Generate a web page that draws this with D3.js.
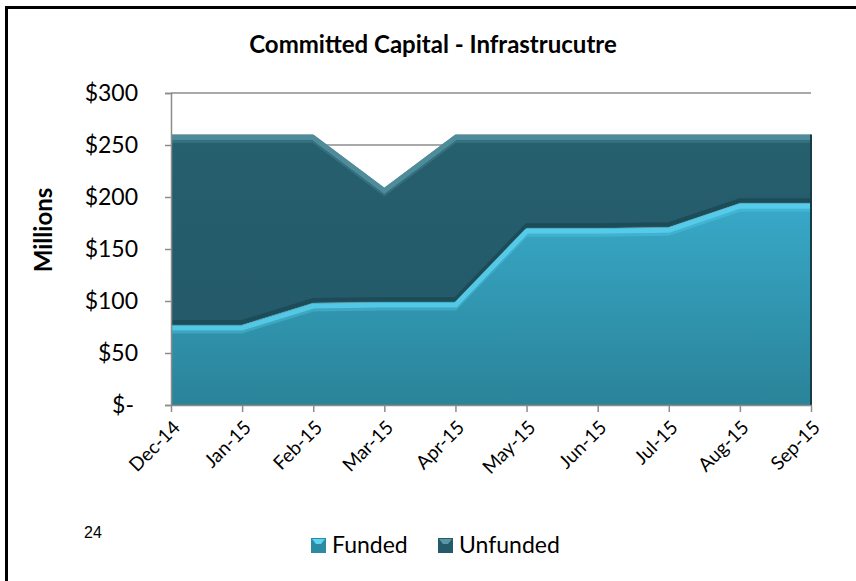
<!DOCTYPE html>
<html>
<head>
<meta charset="utf-8">
<script src="https://cdn.jsdelivr.net/npm/d3@7"></script>
<style>
  body { margin: 0; background: #fff; }
  text { font-family: Lato, "Open Sans", sans-serif; }
</style>
</head>
<body>
<script>
var months = ["Dec-14","Jan-15","Feb-15","Mar-15","Apr-15","May-15","Jun-15","Jul-15","Aug-15","Sep-15"];
var funded = [77, 77, 98, 99, 99, 170, 170, 171, 194, 194];
var unfunded = [183, 183, 162, 110, 161, 90, 90, 89, 66, 66];
var yTicks = [0, 50, 100, 150, 200, 250, 300];
var seriesNames = ["Funded", "Unfunded"];

var width = 856, height = 581;
var margin = {top: 93, right: 45, bottom: 176, left: 171};

var svg = d3.select("body").append("svg")
    .attr("width", width)
    .attr("height", height);

// frame (only left and top edges show)
svg.append("path")
   .attr("d", "M6.5,581 L6.5,7.5 L856,7.5")
   .attr("fill", "none")
   .attr("stroke", "#000")
   .attr("stroke-width", 3);

var defs = svg.append("defs");
var gF = defs.append("linearGradient").attr("id", "gFunded").attr("x1", 0).attr("y1", 0).attr("x2", 0).attr("y2", 1);
gF.append("stop").attr("offset", "0%").attr("stop-color", "#38a9c8");
gF.append("stop").attr("offset", "100%").attr("stop-color", "#2a8399");
var gU = defs.append("linearGradient").attr("id", "gUnfunded").attr("x1", 0).attr("y1", 0).attr("x2", 0).attr("y2", 1);
gU.append("stop").attr("offset", "0%").attr("stop-color", "#265f6e");
gU.append("stop").attr("offset", "100%").attr("stop-color", "#245a69");

var xScale = d3.scalePoint()
    .domain(months)
    .range([margin.left, width - margin.right]);

var yScale = d3.scaleLinear()
    .domain([0, 300])
    .range([height - margin.bottom, margin.top]);

// gridlines
svg.append("g")
   .selectAll("line")
   .data(yTicks.slice(1))
   .enter()
   .append("line")
   .attr("x1", margin.left)
   .attr("x2", width - margin.right)
   .attr("y1", d => yScale(d))
   .attr("y2", d => yScale(d))
   .attr("stroke", "#8c8c8c")
   .attr("stroke-width", 1.5);

var table = months.map((m, i) => ({month: m, Funded: funded[i], Unfunded: unfunded[i]}));
var stacked = d3.stack().keys(seriesNames)(table);

var area = d3.area()
    .x(d => xScale(d.data.month))
    .y0(d => yScale(d[0]))
    .y1(d => yScale(d[1]));

var topLine = d3.line()
    .x(d => xScale(d.data.month))
    .y(d => yScale(d[1]));

var fills = {Funded: "url(#gFunded)", Unfunded: "url(#gUnfunded)"};
var hilite = {Funded: "#5dd4f2", Unfunded: "#5a97a6"};

stacked.forEach(function(layer) {
  svg.append("path")
     .datum(layer)
     .attr("d", area)
     .attr("fill", fills[layer.key]);
});

// bevel edges along top of each layer
stacked.forEach(function(layer) {
  if (layer.key === "Funded") {
    svg.append("path")
       .datum(layer)
       .attr("d", topLine)
       .attr("transform", "translate(0,-3)")
       .attr("fill", "none")
       .attr("stroke", "#1c4955")
       .attr("stroke-width", 4)
       .attr("opacity", 0.8);
  }
  svg.append("path")
     .datum(layer)
     .attr("d", topLine)
     .attr("transform", "translate(0,3)")
     .attr("fill", "none")
     .attr("stroke", hilite[layer.key])
     .attr("stroke-width", 5)
     .attr("opacity", 0.8);
  svg.append("path")
     .datum(layer)
     .attr("d", topLine)
     .attr("transform", "translate(0,7)")
     .attr("fill", "none")
     .attr("stroke", hilite[layer.key])
     .attr("stroke-width", 3)
     .attr("opacity", 0.3);
});

// right side dark edge
svg.append("line")
   .attr("x1", width - margin.right)
   .attr("x2", width - margin.right)
   .attr("y1", yScale(funded[9] + unfunded[9]))
   .attr("y2", yScale(0))
   .attr("stroke", "#163d47")
   .attr("stroke-width", 2);

// axes
var yAxis = d3.axisLeft(yScale)
    .tickValues(yTicks)
    .tickSize(6)
    .tickPadding(33)
    .tickFormat(d => d === 0 ? "$-" : "$" + d);

var yG = svg.append("g")
   .attr("transform", "translate(" + margin.left + ",0)")
   .call(yAxis);
yG.select(".domain").attr("stroke", "#8c8c8c").attr("stroke-width", 1.5);
yG.selectAll(".tick line").attr("stroke", "#8c8c8c").attr("stroke-width", 1.5);
yG.selectAll(".tick text")
  .attr("font-size", "23px")
  .attr("fill", "#000")
  .attr("x", d => d === 0 ? -37 : -33);

var xAxis = d3.axisBottom(xScale).tickSize(7).tickSizeOuter(0);
var xG = svg.append("g")
   .attr("transform", "translate(0," + yScale(0) + ")")
   .call(xAxis);
xG.select(".domain").attr("stroke", "#8c8c8c").attr("stroke-width", 1.5);
xG.selectAll(".tick line").attr("stroke", "#8c8c8c").attr("stroke-width", 1.5);
xG.selectAll(".tick text")
  .attr("font-size", "19px")
  .attr("fill", "#000")
  .attr("text-anchor", "end")
  .attr("y", 0)
  .attr("dy", "0.35em")
  .attr("transform", "translate(5,19) rotate(-45)");

// title
svg.append("text")
   .attr("x", 433)
   .attr("y", 53)
   .attr("text-anchor", "middle")
   .attr("font-weight", "bold")
   .attr("font-size", "24px")
   .text("Committed Capital - Infrastrucutre");

// y label
svg.append("text")
   .attr("transform", "translate(52,230) rotate(-90)")
   .attr("text-anchor", "middle")
   .attr("font-weight", "bold")
   .attr("font-size", "24px")
   .text("Millions");

// page number
svg.append("text")
   .attr("x", 84)
   .attr("y", 538)
   .style("font-family", "'Liberation Sans', Arial, sans-serif")
   .attr("font-size", "16px")
   .text("24");

// legend
var legendX = [311, 438];
var legendSwatch = {Funded: ["#5dd4f2", "#2c8aa3"], Unfunded: ["#5a97a6", "#245a69"]};
var lg = svg.append("g").selectAll("g")
   .data(seriesNames)
   .enter()
   .append("g")
   .attr("transform", (d, i) => "translate(" + legendX[i] + ",538)");
lg.append("rect")
  .attr("width", 15).attr("height", 15)
  .attr("fill", d => legendSwatch[d][1]);
lg.append("path")
  .attr("d", "M1,1 L14,1 L10,6 L5,6 Z")
  .attr("fill", d => legendSwatch[d][0]);
lg.append("text")
  .attr("x", 21)
  .attr("y", 15)
  .attr("font-size", "23px")
  .text(d => d);
</script>
</body>
</html>
